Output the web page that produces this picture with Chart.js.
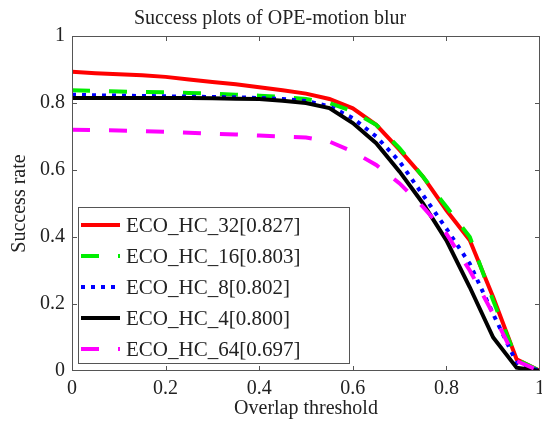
<!DOCTYPE html>
<html>
<head>
<meta charset="utf-8">
<script src="https://cdn.jsdelivr.net/npm/chart.js@4.4.1/dist/chart.umd.min.js"></script>
<style>
  body { margin: 0; background: #fff; }
  #wrap { width: 542px; height: 425px; position: relative; }
</style>
</head>
<body>
<div id="wrap"><canvas id="chart"></canvas></div>
<script>
// overlap thresholds (x)
const thresholds = [0, 0.05, 0.1, 0.15, 0.2, 0.25, 0.3, 0.35, 0.4, 0.45, 0.5,
                    0.55, 0.6, 0.65, 0.7, 0.75, 0.8, 0.85, 0.9, 0.95, 1];

const seriesNames = ['ECO_HC_32[0.827]', 'ECO_HC_16[0.803]', 'ECO_HC_8[0.802]', 'ECO_HC_4[0.800]', 'ECO_HC_64[0.697]'];

const hc32 = [0.893, 0.889, 0.886, 0.883, 0.878, 0.870, 0.863, 0.856, 0.847, 0.838, 0.828,
              0.812, 0.784, 0.735, 0.660, 0.580, 0.480, 0.390, 0.220, 0.035, 0.0];
const hc16 = [0.838, 0.836, 0.834, 0.833, 0.832, 0.830, 0.828, 0.825, 0.822, 0.818, 0.812,
              0.800, 0.775, 0.735, 0.665, 0.580, 0.490, 0.400, 0.210, 0.035, 0.0];
const hc8  = [0.825, 0.823, 0.822, 0.821, 0.820, 0.819, 0.818, 0.817, 0.815, 0.812, 0.806,
              0.790, 0.755, 0.700, 0.625, 0.525, 0.425, 0.320, 0.170, 0.025, 0.0];
const hc4  = [0.815, 0.815, 0.815, 0.815, 0.815, 0.815, 0.814, 0.813, 0.812, 0.807, 0.800,
              0.785, 0.740, 0.680, 0.595, 0.500, 0.390, 0.250, 0.100, 0.010, 0.0];
const hc64 = [0.720, 0.719, 0.718, 0.716, 0.714, 0.711, 0.708, 0.706, 0.703, 0.700, 0.697,
              0.685, 0.655, 0.615, 0.560, 0.490, 0.410, 0.300, 0.170, 0.030, 0.0];

const xTickValues = [0, 0.2, 0.4, 0.6, 0.8, 1];
const yTickValues = [0, 0.2, 0.4, 0.6, 0.8, 1];
const tickLabels = ['0', '0.2', '0.4', '0.6', '0.8', '1'];

const serif = "'Liberation Serif', 'Times New Roman', serif";
const textColor = '#222';
const axisColor = '#555';

Chart.defaults.font.family = serif;
Chart.defaults.color = textColor;

function toPoints(values) {
  return values.map((v, i) => ({ x: thresholds[i], y: v }));
}

// style per series: colour, dash
const styles = [
  { color: '#ff0000', dash: [] },
  { color: '#00ee00', dash: [18, 19] },
  { color: '#0000ff', dash: [4, 6] },
  { color: '#000000', dash: [] },
  { color: '#ff00ff', dash: [18, 19] }
];
const allSeries = [hc32, hc16, hc8, hc4, hc64];

const datasets = allSeries.map((vals, i) => ({
  label: seriesNames[i],
  data: toPoints(vals),
  borderColor: styles[i].color,
  backgroundColor: styles[i].color,
  borderDash: styles[i].dash,
  borderWidth: 4,
  borderCapStyle: 'butt',
  pointRadius: 0,
  tension: 0,
  order: 5 - i   // first series at the bottom, like matlab
}));

function tickText(v) {
  const i = xTickValues.findIndex(t => Math.abs(t - v) < 1e-9);
  return i >= 0 ? tickLabels[i] : '';
}

// box round the plot + inward ticks on all four sides
const boxPlugin = {
  id: 'box',
  afterDatasetsDraw(chart) {
    const { ctx, chartArea: a, scales } = chart;
    ctx.save();
    ctx.strokeStyle = axisColor;
    ctx.lineWidth = 1;
    ctx.strokeRect(a.left + 0.5, a.top + 0.5, a.right - a.left - 1, a.bottom - a.top - 1);
    ctx.beginPath();
    xTickValues.slice(1, -1).forEach(v => {
      const px = Math.round(scales.x.getPixelForValue(v)) + 0.5;
      ctx.moveTo(px, a.bottom); ctx.lineTo(px, a.bottom - 5);
      ctx.moveTo(px, a.top); ctx.lineTo(px, a.top + 5);
    });
    yTickValues.slice(1, -1).forEach(v => {
      const py = Math.round(scales.y.getPixelForValue(v)) + 0.5;
      ctx.moveTo(a.left, py); ctx.lineTo(a.left + 5, py);
      ctx.moveTo(a.right, py); ctx.lineTo(a.right - 5, py);
    });
    ctx.stroke();
    ctx.restore();
  }
};

// legend inside the plot, lower left
const legendPlugin = {
  id: 'boxLegend',
  afterDraw(chart) {
    const { ctx } = chart;
    const left = 78, top = 207, w = 271, h = 156;
    ctx.save();
    ctx.fillStyle = '#fff';
    ctx.fillRect(left, top, w, h);
    ctx.strokeStyle = axisColor;
    ctx.lineWidth = 1;
    ctx.strokeRect(left + 0.5, top + 0.5, w, h);
    ctx.font = '21px ' + serif;
    ctx.textBaseline = 'middle';
    ctx.textAlign = 'left';
    chart.data.datasets.forEach((ds, i) => {
      const y = top + 18 + i * 31;
      ctx.beginPath();
      ctx.strokeStyle = ds.borderColor;
      ctx.lineWidth = ds.borderWidth;
      ctx.setLineDash(ds.borderDash);
      ctx.lineCap = 'butt';
      ctx.moveTo(81, y);
      ctx.lineTo(120, y);
      ctx.stroke();
      ctx.setLineDash([]);
      ctx.fillStyle = textColor;
      ctx.fillText(ds.label, 126, y + 1);
    });
    ctx.restore();
  }
};

new Chart(document.getElementById('chart'), {
  type: 'line',
  data: { datasets: datasets },
  options: {
    responsive: true,
    maintainAspectRatio: false,
    animation: false,
    layout: { padding: { left: 0, right: 2, top: 0, bottom: 0 } },
    plugins: {
      legend: { display: false },
      tooltip: { enabled: false },
      title: {
        display: true,
        text: 'Success plots of OPE-motion blur',
        color: textColor,
        font: { family: serif, size: 20, weight: 'normal' },
        padding: { top: 7, bottom: 5 }
      }
    },
    scales: {
      x: {
        type: 'linear',
        min: 0,
        max: 1,
        afterBuildTicks: s => { s.ticks = xTickValues.map(v => ({ value: v })); },
        afterFit: s => { s.height = 54; s.paddingLeft = 0; s.paddingRight = 0; },
        ticks: { color: textColor, font: { family: serif, size: 20 }, padding: 6, maxRotation: 0, callback: tickText },
        grid: { display: false, drawTicks: false },
        border: { display: false },
        title: {
          display: true,
          text: 'Overlap threshold',
          color: textColor,
          font: { family: serif, size: 20 },
          padding: { top: 0, bottom: 4 }
        }
      },
      y: {
        min: 0,
        max: 1,
        afterBuildTicks: s => { s.ticks = yTickValues.map(v => ({ value: v })); },
        afterFit: s => { s.width = 72; },
        ticks: { color: textColor, font: { family: serif, size: 20 }, padding: 7, callback: tickText },
        grid: { display: false, drawTicks: false },
        border: { display: false },
        title: {
          display: true,
          text: 'Success rate',
          color: textColor,
          font: { family: serif, size: 20 },
          padding: { top: 8, bottom: 0 }
        }
      }
    }
  },
  plugins: [boxPlugin, legendPlugin]
});
</script>
</body>
</html>
